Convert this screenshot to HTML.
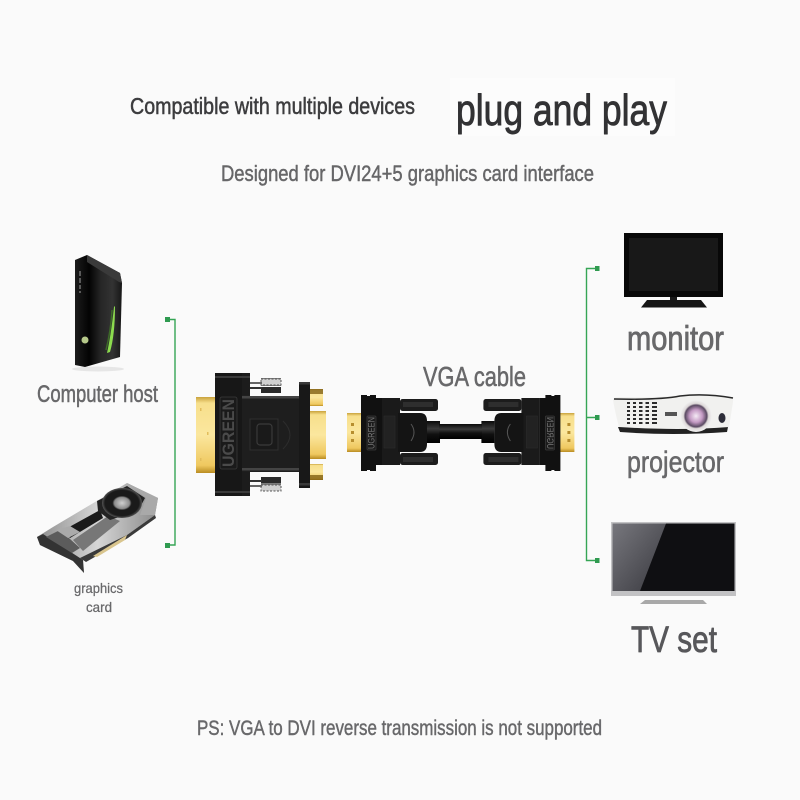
<!DOCTYPE html>
<html><head><meta charset="utf-8"><style>
html,body{margin:0;padding:0;background:#fafafa;width:800px;height:800px;overflow:hidden}
svg{display:block}
text{font-family:"Liberation Sans Narrow","Liberation Sans",sans-serif}
.t{stroke-linejoin:round}
</style></head><body>
<svg width="800" height="800" viewBox="0 0 800 800" xmlns="http://www.w3.org/2000/svg">
<defs>
<linearGradient id="gold" x1="0" y1="0" x2="0" y2="1"><stop offset="0" stop-color="#c9a23c"/><stop offset=".08" stop-color="#f7df8c"/><stop offset=".5" stop-color="#fbe79e"/><stop offset=".9" stop-color="#efc85f"/><stop offset="1" stop-color="#b98c22"/></linearGradient>
<linearGradient id="cab" x1="0" y1="0" x2="0" y2="1"><stop offset="0" stop-color="#0a0a0a"/><stop offset=".35" stop-color="#3a3a3a"/><stop offset=".6" stop-color="#111"/><stop offset="1" stop-color="#000"/></linearGradient>
<linearGradient id="tower" x1="0" y1="0" x2="1" y2="0"><stop offset="0" stop-color="#1c1c1c"/><stop offset=".3" stop-color="#030303"/><stop offset=".55" stop-color="#262626"/><stop offset=".8" stop-color="#333"/><stop offset="1" stop-color="#161616"/></linearGradient>
<linearGradient id="refl" x1="0" y1="0" x2="1" y2="1"><stop offset="0" stop-color="#77777d"/><stop offset="1" stop-color="#38383e"/></linearGradient>
<linearGradient id="shroud" x1="0" y1="0" x2="1" y2="0"><stop offset="0" stop-color="#8d8d8d"/><stop offset=".5" stop-color="#d6d6d6"/><stop offset="1" stop-color="#8a8a8a"/></linearGradient>
<radialGradient id="lens"><stop offset="0" stop-color="#f5ebf5"/><stop offset=".4" stop-color="#c49ac4"/><stop offset=".68" stop-color="#5a4a62"/><stop offset=".78" stop-color="#ddd8d8"/><stop offset="1" stop-color="#f2f2f2"/></radialGradient>
<radialGradient id="fan"><stop offset="0" stop-color="#d0d0d0"/><stop offset=".38" stop-color="#8c8c8c"/><stop offset=".48" stop-color="#1a1a1a"/><stop offset=".85" stop-color="#1a1a1a"/><stop offset="1" stop-color="#555"/></radialGradient>
<g id="vgaHalf">
 <rect x="347" y="413" width="15" height="39" fill="url(#gold)"/>
 <g fill="#b78e2e"><rect x="351" y="423" width="3" height="3"/><rect x="351" y="431" width="3" height="3"/><rect x="351" y="439" width="3" height="3"/></g>
 <path d="M361 395h6v1h3v-1h6v3h6v67h-6v6h-6v-1h-3v1h-6z" fill="#111"/>
 <rect x="382" y="398" width="18" height="67" fill="#1a1a1a"/>
 <rect x="384" y="416" width="11" height="32" fill="#222" stroke="#2c2c2c" stroke-width=".6"/>
 <rect x="367" y="416" width="9" height="34" rx="1" fill="#1b1b1b" stroke="#3a3a3a" stroke-width=".7"/>
 <text transform="translate(374.500,449) rotate(-90)" font-size="9" fill="#777" textLength="32" lengthAdjust="spacingAndGlyphs">UGREEN</text>
 <rect x="400" y="399" width="38" height="12" rx="2.500" fill="#1c1c1c"/><rect x="403" y="402" width="30" height="5" fill="#2e2e2e"/>
 <rect x="400" y="453" width="38" height="12" rx="2.500" fill="#1c1c1c"/><rect x="403" y="457" width="30" height="5" fill="#2e2e2e"/>
 <path d="M398 413h22q7 0 7 8v23q0 8-7 8h-22z" fill="#141414"/>
 <path d="M411 424q6 8 0 17" fill="none" stroke="#555" stroke-width="1"/>
 <rect x="427" y="421" width="13" height="22" fill="url(#cab)"/>
</g>
</defs>
<rect width="800" height="800" fill="#fafafa"/>

<!-- faint halos -->
<rect x="450" y="78" width="225" height="58" fill="#fcfcfc"/>

<!-- headings -->
<text class="t" x="130" y="114" font-size="23" fill="#3c3c3e" stroke="#3c3c3e" stroke-width=".5" textLength="285" lengthAdjust="spacingAndGlyphs">Compatible with multiple devices</text>
<text class="t" x="456" y="125" font-size="44" fill="#323234" stroke="#323234" stroke-width=".9" textLength="211" lengthAdjust="spacingAndGlyphs">plug and play</text>
<text class="t" x="221" y="181" font-size="22" fill="#666668" stroke="#666668" stroke-width=".45" textLength="373" lengthAdjust="spacingAndGlyphs">Designed for DVI24+5 graphics card interface</text>

<!-- computer tower -->
<ellipse cx="98" cy="369" rx="26" ry="2.500" fill="#e6e6e6"/>
<path d="M75 260L87 255L120 273L122 283L120 357L85 367L75 365Z" fill="url(#tower)"/>
<path d="M87 255L120 273L122 283L119 282L87 262Z" fill="#3a3a3a"/>
<path d="M107 353Q111 335 114 307L115 306Q115 335 110 352Z" fill="#8cdc4e"/>
<path d="M106 350Q111 330 112 310" stroke="#3d6a28" stroke-width="1.500" fill="none"/>
<circle cx="85" cy="340" r="3.500" fill="#b6c98a"/>
<g fill="#5a5a5a"><rect x="79" y="271" width="2" height="5"/><rect x="79" y="278" width="2" height="5"/><rect x="79" y="285" width="2" height="4"/><rect x="79" y="291" width="2" height="2"/></g>
<text class="t" x="37" y="402" font-size="24" fill="#68686a" stroke="#68686a" stroke-width=".5" textLength="121" lengthAdjust="spacingAndGlyphs">Computer host</text>

<!-- GPU -->
<path d="M37 537L53 527L127 483L158 498L155 515L127 535L83 560L84 573L73 561L40 545Z" fill="url(#shroud)"/>
<path d="M127 483L158 498L155 515L140 515L146 498Z" fill="#a9a9a9"/>
<path d="M127 535L155 515L156 518L128 538L86 562L80 558Z" fill="#3a3a3a"/>
<path d="M93 556L127 535L125 540L97 557Z" fill="#d9c58e"/>
<path d="M73 540L108 516L120 521L83 551Z" fill="#777"/>
<path d="M62 531L100 510L103 518L70 538Z" fill="#1a1a1a"/>
<path d="M97 501L127 486L145 498L138 511L110 520L98 511Z" fill="#222"/>
<ellipse cx="122" cy="503" rx="20" ry="15" fill="url(#fan)"/>
<path d="M37 537L43 534L83 560L84 573L73 561L40 545Z" fill="#333"/>
<path d="M46 537L60 530L80 548L72 553Z" fill="#5c5c5c"/>
<path d="M56 530L70 526L80 532L68 538Z" fill="#aaa"/>
<text class="t" x="74" y="593" font-size="14" fill="#68686a" stroke="#68686a" stroke-width=".25" textLength="49" lengthAdjust="spacingAndGlyphs">graphics</text>
<text class="t" x="86" y="612" font-size="14" fill="#68686a" stroke="#68686a" stroke-width=".25" textLength="26" lengthAdjust="spacingAndGlyphs">card</text>

<!-- left bracket -->
<path d="M168 319.500H175V545H168" fill="none" stroke="#35a555" stroke-width="1.400"/>
<rect x="165" y="317" width="5" height="5" fill="#2f9a50"/>
<rect x="165" y="543" width="5" height="5" fill="#2f9a50"/>

<!-- DVI adapter -->
<rect x="196" y="397" width="20" height="76" fill="url(#gold)"/>
<g fill="#e2bd5c"><rect x="200" y="408" width="1.500" height="3"/><rect x="207" y="432" width="1.500" height="3"/><rect x="200" y="458" width="1.500" height="3"/></g>
<g fill="#7a7a7a"><rect x="261" y="378" width="20" height="2"/><rect x="261" y="384" width="20" height="2"/><rect x="261" y="483" width="20" height="2"/><rect x="261" y="489" width="20" height="2"/></g>
<rect x="261" y="379" width="20" height="6" fill="#cfcfcf" stroke="#555" stroke-dasharray="2 1.500" stroke-width="1"/>
<rect x="261" y="485" width="20" height="6" fill="#cfcfcf" stroke="#555" stroke-dasharray="2 1.500" stroke-width="1"/>
<rect x="261" y="387" width="20" height="6" fill="#2a2a2a"/><rect x="261" y="477" width="20" height="6" fill="#2a2a2a"/>
<rect x="250" y="382" width="12" height="2" fill="#666"/><rect x="250" y="387" width="12" height="2" fill="#333"/>
<rect x="250" y="480" width="12" height="2" fill="#333"/><rect x="250" y="485" width="12" height="2" fill="#666"/>
<rect x="215" y="373" width="35" height="123" fill="#1c1c1c"/>
<rect x="215" y="373" width="27" height="123" fill="#171717"/>
<rect x="242" y="395" width="8" height="77" fill="#202020"/>
<rect x="242" y="397" width="58" height="75" fill="#1e1e1e"/>
<rect x="242" y="396" width="57" height="2.500" fill="#444"/>
<rect x="242" y="468" width="57" height="2.500" fill="#444"/>
<rect x="215" y="376" width="35" height="2" fill="#3a3a3a"/><rect x="215" y="491" width="35" height="2" fill="#3a3a3a"/>
<rect x="220" y="397" width="17" height="72" rx="2" fill="#1a1a1a" stroke="#3a3a3a" stroke-width=".8"/>
<text transform="translate(234,467) rotate(-90)" font-size="17" fill="#4a4a4a" font-weight="bold" textLength="68" lengthAdjust="spacingAndGlyphs">UGREEN</text>
<rect x="250" y="419" width="28" height="31" fill="#1a1a1a" stroke="#2f2f2f" stroke-width="1"/>
<rect x="257" y="424" width="15" height="21" rx="3" fill="none" stroke="#3a3a3a" stroke-width="1.200"/>
<path d="M283 421q14 14 0 28" fill="none" stroke="#2d2d2d" stroke-width="1"/>
<rect x="299" y="382" width="11" height="106" fill="#181818"/>
<rect x="299" y="382" width="11" height="2.500" fill="#3a3a3a"/><rect x="299" y="483" width="11" height="2.500" fill="#3a3a3a"/>
<rect x="310" y="389" width="13" height="17" fill="url(#gold)"/>
<rect x="310" y="389" width="13" height="5" fill="#7a5a10" opacity=".75"/>
<rect x="310" y="411" width="16" height="48" fill="url(#gold)"/>
<rect x="310" y="464" width="13" height="16" fill="url(#gold)"/>
<rect x="310" y="475" width="13" height="5" fill="#7a5a10" opacity=".75"/>

<!-- VGA cable -->
<use href="#vgaHalf"/>
<use href="#vgaHalf" transform="translate(921.400 0) scale(-1 1)"/>
<rect x="439" y="424" width="43" height="15" fill="url(#cab)"/>
<text class="t" x="423" y="386" font-size="28" fill="#68686a" stroke="#68686a" stroke-width=".55" textLength="103" lengthAdjust="spacingAndGlyphs">VGA cable</text>

<!-- right bracket -->
<path d="M597 268.500H586.500V560.500H597M586.500 417.500H597" fill="none" stroke="#35a555" stroke-width="1.400"/>
<rect x="595" y="266" width="4.500" height="5" fill="#2f9a50"/>
<rect x="595" y="415" width="4.500" height="5" fill="#2f9a50"/>
<rect x="595" y="558" width="4.500" height="5" fill="#2f9a50"/>

<!-- monitor -->
<rect x="624" y="233" width="99" height="64" fill="#080808"/>
<rect x="629" y="238" width="89" height="53" fill="#181818"/>
<rect x="670" y="297" width="7" height="4" fill="#1a1a1a"/>
<path d="M647 300H701L707 307.500H641Z" fill="#151515"/>
<text class="t" x="627" y="350" font-size="34" fill="#68686a" stroke="#68686a" stroke-width=".8" textLength="97" lengthAdjust="spacingAndGlyphs">monitor</text>

<!-- projector -->
<path d="M618 427L728 427L727 432Q673 436 620 432Z" fill="#222"/>
<path d="M613 400Q613 397 620 397Q660 398 680 395Q705 392 728 397Q734 397 733 402L729 427Q680 431 619 427Q615 412 613 400Z" fill="#f1f1ef"/>
<path d="M614 399Q660 400 680 396Q705 393 733 398" fill="none" stroke="#2a2a2a" stroke-width="1.500"/>
<g fill="#2c2c2c" id="grille">
<rect x="627" y="402" width="30" height="2"/><rect x="627" y="406" width="30" height="2"/><rect x="627" y="410" width="30" height="2"/><rect x="627" y="414" width="30" height="2"/><rect x="627" y="418" width="30" height="2"/><rect x="627" y="422" width="30" height="2"/>
</g>
<g fill="#f1f1ef"><rect x="630" y="400" width="3" height="26"/><rect x="636" y="400" width="3" height="26"/><rect x="642.500" y="400" width="3" height="26"/><rect x="649" y="400" width="3" height="26"/></g>
<rect x="665" y="412" width="12" height="4" fill="#555"/>
<circle cx="696" cy="416" r="16" fill="url(#lens)"/>
<ellipse cx="722" cy="418" rx="3.500" ry="5" fill="#2c2c38"/>
<text class="t" x="627" y="472" font-size="30" fill="#68686a" stroke="#68686a" stroke-width=".6" textLength="97" lengthAdjust="spacingAndGlyphs">projector</text>

<!-- TV -->
<rect x="611" y="522" width="125" height="74" fill="#c2c2c4"/>
<rect x="612.500" y="523.500" width="122" height="67.500" fill="#0f0f12"/>
<path d="M612.500 523.500H666L640 591H612.500Z" fill="url(#refl)"/>
<path d="M645 600H703L707 604H640Z" fill="#a8a8a8"/>
<text class="t" x="631" y="652" font-size="37" fill="#57575a" stroke="#57575a" stroke-width=".8" textLength="86" lengthAdjust="spacingAndGlyphs">TV set</text>

<!-- footer -->
<text class="t" x="197" y="735" font-size="21" fill="#68686a" stroke="#68686a" stroke-width=".45" textLength="405" lengthAdjust="spacingAndGlyphs">PS: VGA to DVI reverse transmission is not supported</text>
</svg>
</body></html>
